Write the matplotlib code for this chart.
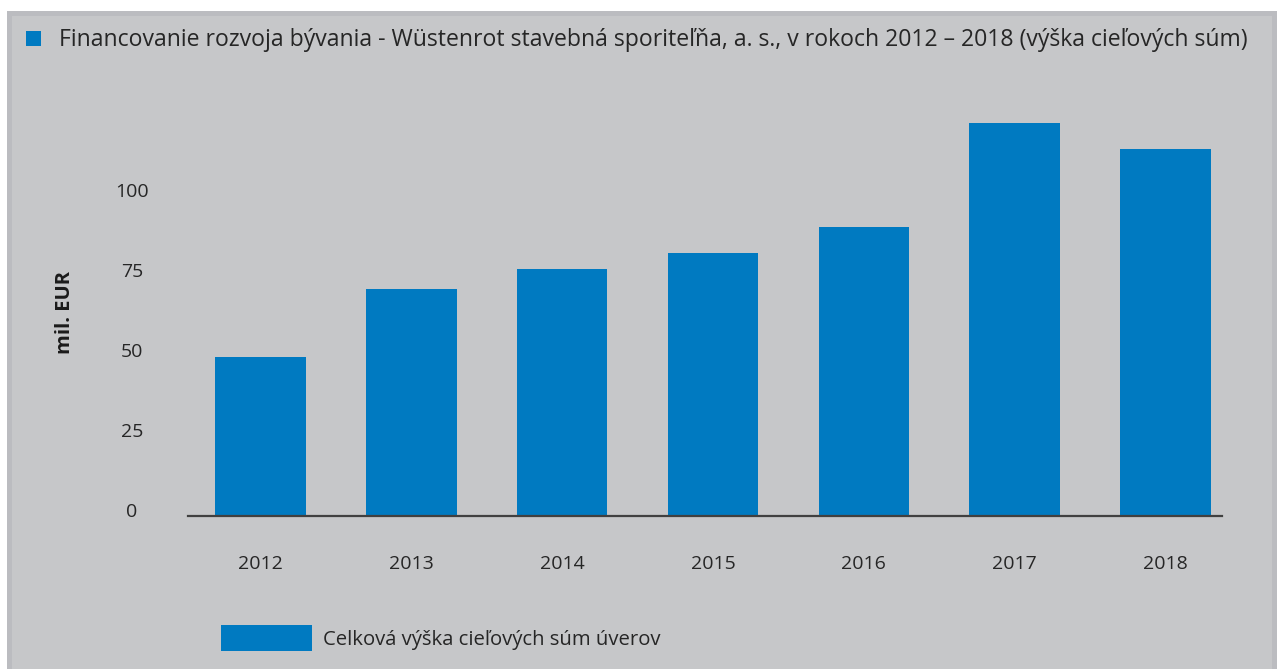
import matplotlib
matplotlib.use("Agg")
import matplotlib.pyplot as plt
from matplotlib.patches import Rectangle
from matplotlib.transforms import ScaledTranslation

plt.rcParams['font.family'] = ['Open Sans', 'DejaVu Sans']

# Data
years = ["2012", "2013", "2014", "2015", "2016", "2017", "2018"]
values = [49.7, 70.9, 77.2, 82.2, 90.3, 122.8, 114.7]
y_ticks = [0, 25, 50, 75, 100]

title = "Financovanie rozvoja bývania - Wüstenrot stavebná sporiteľňa, a. s., v rokoch 2012 – 2018 (výška cieľových súm)"
series_name = "Celková výška cieľových súm úverov"
y_label = "mil. EUR"

BLUE = "#007ac1"
PANEL = "#c6c7c9"
EDGE = "#bbbcc0"
TEXT = "#262626"

W, H = 1279, 669
fig = plt.figure(figsize=(W / 100, H / 100), dpi=100)
fig.patch.set_facecolor("white")

def px(x0, y0, w, h):
    # pixel box (top-left origin) -> figure fraction
    return (x0 / W, 1 - (y0 + h) / H), w / W, h / H

# grey panel with darker top/left/right strips
for (x0, y0, w, h), col in [((7, 11, 1270, 658), EDGE), ((12, 16, 1260, 653), PANEL)]:
    xy, ww, hh = px(x0, y0, w, h)
    fig.patches.append(Rectangle(xy, ww, hh, transform=fig.transFigure,
                                 facecolor=col, edgecolor="none", zorder=-5))

# title with blue square
xy, ww, hh = px(26, 31, 15, 15)
fig.patches.append(Rectangle(xy, ww, hh, transform=fig.transFigure,
                             facecolor=BLUE, edgecolor="none", zorder=-4))
fig.text(59 / W, 1 - 40 / H, title, fontsize=16.6, color=TEXT, va="center", ha="left")

# axes
left, right, bottom, top = 188, 1222, 516, 100
ax = fig.add_axes([left / W, 1 - bottom / H, (right - left) / W, (bottom - top) / H])
ax.set_zorder(2)
ax.set_facecolor("none")
bars = ax.bar(range(len(years)), values, width=0.6, color=BLUE, label=series_name, zorder=2)
ax.set_xlim(-0.481, 6.375)
ax.set_ylim(0, 130)

for s in ["top", "right", "left"]:
    ax.spines[s].set_visible(False)
ax.spines["bottom"].set_color("#404040")
ax.spines["bottom"].set_linewidth(1.6)
ax.spines["bottom"].set_zorder(3)

ax.set_xticks(range(len(years)))
ax.set_xticklabels(years)
ax.set_yticks(y_ticks)
ax.set_yticklabels([str(t) for t in y_ticks])
ax.tick_params(axis="x", length=0, pad=28, labelsize=14, labelcolor=TEXT)
ax.tick_params(axis="y", length=0, pad=40.3, labelsize=14, labelcolor=TEXT)
for lab in ax.get_yticklabels():
    lab.set_horizontalalignment("center")
    lab.set_transform(lab.get_transform() + ScaledTranslation(0, 6 / 100, fig.dpi_scale_trans))

fig.text(65 / W, 1 - 312 / H, y_label, rotation=90, fontsize=14.5, fontweight="bold",
         color="#1a1a1a", ha="center", va="center")

fig.legend(handles=[bars], labels=[series_name], loc="center left",
           bbox_to_anchor=(221 / W, 1 - 638 / H), frameon=False, fontsize=14.6,
           handlelength=4.49, handleheight=1.65, handletextpad=0.55,
           borderpad=0, borderaxespad=0, labelcolor=TEXT)

fig.savefig("out.png", dpi=100)
